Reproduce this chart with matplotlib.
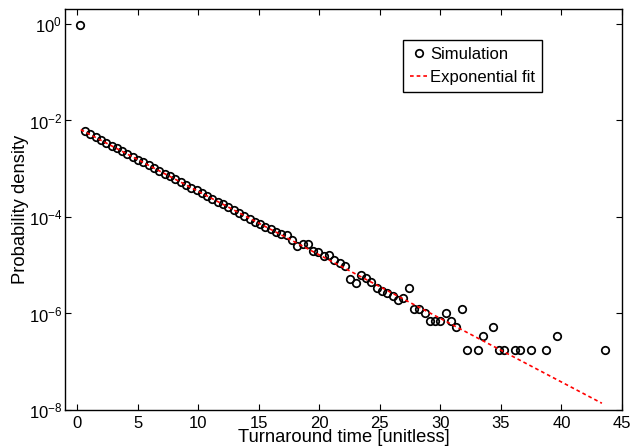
import numpy as np
import matplotlib
matplotlib.use("Agg")
import matplotlib.pyplot as plt
from matplotlib.ticker import LogLocator, LogFormatterMathtext, NullLocator

plt.rcParams['font.family'] = ['Liberation Sans', 'DejaVu Sans']
plt.rcParams['mathtext.fontset'] = 'custom'
plt.rcParams['mathtext.rm'] = 'Liberation Sans'
plt.rcParams['mathtext.it'] = 'Liberation Sans:italic'
plt.rcParams['mathtext.bf'] = 'Liberation Sans:bold'

# Simulation: bin centres (turnaround time) and log10 of probability density
sim_x = [0.22, 0.66, 1.10, 1.53, 1.97, 2.41, 2.85, 3.29, 3.72, 4.16,
         4.60, 5.04, 5.48, 5.91, 6.35, 6.79, 7.23, 7.67, 8.10, 8.54,
         8.98, 9.42, 9.86, 10.29, 10.73, 11.17, 11.61, 12.05, 12.48, 12.92,
         13.36, 13.80, 14.24, 14.67, 15.11, 15.55, 15.99, 16.43, 16.86, 17.30,
         17.74, 18.18, 18.62, 19.05, 19.49, 19.93, 20.37, 20.81, 21.24, 21.68,
         22.12, 22.56, 23.00, 23.43, 23.87, 24.31, 24.75, 25.19, 25.62, 26.06,
         26.50, 26.94, 27.38, 27.81, 28.25, 28.69, 29.13, 29.57, 30.00, 30.44,
         30.88, 31.32, 31.76, 32.19, 33.07, 33.51, 34.38, 34.82, 35.26, 36.14,
         36.57, 37.45, 38.76, 39.64, 43.58]
sim_log10 = [-0.02, -2.22, -2.29, -2.35, -2.41, -2.47, -2.53, -2.58, -2.64, -2.70,
             -2.76, -2.81, -2.87, -2.93, -2.99, -3.05, -3.10, -3.16, -3.22, -3.28,
             -3.33, -3.39, -3.45, -3.51, -3.56, -3.62, -3.68, -3.74, -3.80, -3.85,
             -3.91, -3.98, -4.05, -4.10, -4.15, -4.20, -4.25, -4.31, -4.35, -4.38,
             -4.47, -4.61, -4.55, -4.57, -4.70, -4.72, -4.81, -4.78, -4.90, -4.96,
             -5.01, -5.28, -5.37, -5.21, -5.26, -5.35, -5.48, -5.53, -5.58, -5.64,
             -5.72, -5.67, -5.47, -5.91, -5.91, -5.98, -6.15, -6.15, -6.15, -5.98,
             -6.15, -6.28, -5.91, -6.76, -6.76, -6.46, -6.28, -6.76, -6.76, -6.76,
             -6.76, -6.76, -6.76, -6.46, -6.76]

# Exponential fit (straight line on log axis): end points
fit_x = [0.30, 43.34]
fit_log10 = [-2.19, -7.86]

sim_y = 10.0 ** np.array(sim_log10)
fit_y = 10.0 ** np.array(fit_log10)

fig = plt.figure(figsize=(6.32, 4.46), dpi=100)
ax = fig.add_axes([65/632, 36/446, 557/632, 401/446])

ax.plot(sim_x, sim_y, linestyle='none', marker='o', markersize=5.4,
        markerfacecolor='none', markeredgecolor='black', markeredgewidth=1.25,
        label='Simulation', zorder=3)
ax.plot(fit_x, fit_y, color='red', linestyle=(0, (2.2, 1.8)), linewidth=1.2,
        label='Exponential fit', zorder=4)

ax.set_yscale('log')
ax.set_xlim(-1, 45)
ax.set_ylim(1e-8, 10 ** 0.31)
ax.set_xticks([0, 5, 10, 15, 20, 25, 30, 35, 40, 45])
ax.yaxis.set_major_locator(LogLocator(base=100.0))
ax.yaxis.set_major_formatter(LogFormatterMathtext(base=10.0))
ax.yaxis.set_minor_locator(NullLocator())

ax.tick_params(axis='both', which='major', direction='in', length=4, width=0.8,
               labelsize=12, top=True, right=True, colors='black')
ax.tick_params(axis='x', pad=4)
ax.tick_params(axis='y', pad=2)
for s in ax.spines.values():
    s.set_linewidth(1.0)
    s.set_color('black')

ax.set_xlabel('Turnaround time [unitless]', fontsize=13.2, labelpad=-1)
ax.set_ylabel('Probability density', fontsize=13.2, labelpad=0)

leg = ax.legend(loc='upper left', bbox_to_anchor=(0.607, 0.923), fontsize=12,
                frameon=True, fancybox=False, edgecolor='black', framealpha=1,
                handlelength=1.1, handletextpad=0.12, borderpad=0.4,
                labelspacing=0.5, borderaxespad=0, numpoints=1)
leg.get_frame().set_linewidth(1.0)

fig.savefig('out.png', dpi=100)
